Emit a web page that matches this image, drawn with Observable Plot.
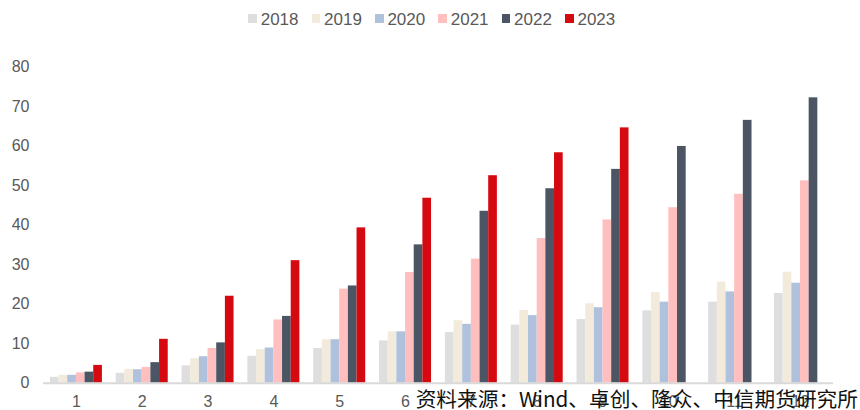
<!DOCTYPE html>
<html>
<head>
<meta charset="utf-8">
<script src="https://cdn.jsdelivr.net/npm/d3@7"></script>
<script src="https://cdn.jsdelivr.net/npm/@observablehq/plot@0.6"></script>
<style>
  html, body { margin: 0; padding: 0; background: #fff; }
  #wrap { position: relative; width: 860px; height: 410px; overflow: hidden; font-family: "Liberation Sans", Arial, sans-serif; }
  #legend { position: relative; height: 30px; }
  .item { position: absolute; top: 0; height: 30px; }
  .sw { position: absolute; top: 14px; left: 0; width: 8.5px; height: 9px; }
  .lb { position: absolute; top: 10px; left: 12.4px; font-size: 17px; line-height: 20px; color: #595959; white-space: nowrap; }
  #source { position: absolute; right: 2px; top: 387px; font-family: "Noto Sans CJK SC", sans-serif; font-size: 20.7px; line-height: 22px; color: #111; white-space: nowrap; }
</style>
</head>
<body>
<div id="wrap">
  <div id="legend"></div>
  <div id="chart"></div>
  <div id="source"></div>
</div>
<script>
const months = ["1","2","3","4","5","6","7","8","9","10","11","12"];
const years = ["2018","2019","2020","2021","2022","2023"];
const colors = ["#dedede","#f2ebdc","#afc1dc","#ffbfbf","#4b5563","#d50a11"];
const v2018 = [1.5, 2.5, 4.4, 6.8, 8.8, 10.7, 12.8, 14.7, 16.1, 18.3, 20.5, 22.7];
const v2019 = [2.0, 3.5, 6.2, 8.5, 11.0, 13.0, 15.8, 18.4, 20.1, 22.9, 25.6, 28.1];
const v2020 = [2.0, 3.4, 6.7, 8.9, 11.0, 13.0, 14.9, 17.1, 19.1, 20.5, 23.1, 25.3];
const v2021 = [2.6, 4.0, 8.8, 16.0, 23.8, 28.0, 31.4, 36.6, 41.3, 44.4, 47.8, 51.2];
const v2022 = [2.8, 5.2, 10.2, 16.9, 24.6, 35.0, 43.5, 49.2, 54.1, 59.9, 66.5, 72.2];
const v2023 = [4.5, 11.1, 22.0, 31.0, 39.3, 46.8, 52.5, 58.3, 64.6];
const yTicks = [0, 10, 20, 30, 40, 50, 60, 70, 80];
const sourceText = "资料来源：Wind、卓创、隆众、中信期货研究所";

const series = [v2018, v2019, v2020, v2021, v2022, v2023];
const data = [];
series.forEach((vals, i) => {
  vals.forEach((v, j) => data.push({month: months[j], year: years[i], value: v}));
});

const legend = document.getElementById("legend");
years.forEach((y, i) => {
  const it = document.createElement("div");
  it.className = "item";
  it.style.left = (248.3 + i * 63.35) + "px";
  const sw = document.createElement("div");
  sw.className = "sw";
  sw.style.background = colors[i];
  const lb = document.createElement("div");
  lb.className = "lb";
  lb.textContent = y;
  it.appendChild(sw);
  it.appendChild(lb);
  legend.appendChild(it);
});

document.getElementById("source").textContent = sourceText;

const chart = Plot.plot({
  width: 860,
  height: 380,
  marginTop: 36.5,
  marginBottom: 27.3,
  marginLeft: 49.9,
  marginRight: 34,
  style: {fontFamily: "'Liberation Sans', Arial, sans-serif", fontSize: "16px", color: "#595959", background: "transparent", overflow: "visible"},
  fx: {domain: months, padding: 0.21, round: false, label: null},
  x: {domain: years, padding: 0, round: false, axis: null},
  y: {domain: [0, 80], label: null},
  color: {domain: years, range: colors},
  facet: {data: data, x: "month"},
  marks: [
    Plot.barY(data, {x: "year", y: "value", fill: "year"}),
    Plot.ruleY([0], {stroke: "#d9d9d9", strokeWidth: 2, insetLeft: -6.92, insetRight: -6.92}),
    Plot.axisY({ticks: yTicks, tickSize: 0, tickPadding: 0, dx: -20.9, label: null, fill: "#595959"}),
    Plot.axisFx({anchor: "bottom", tickSize: 0, tickPadding: 12.3, label: null, fill: "#595959"})
  ]
});
document.getElementById("chart").appendChild(chart);
</script>
</body>
</html>
